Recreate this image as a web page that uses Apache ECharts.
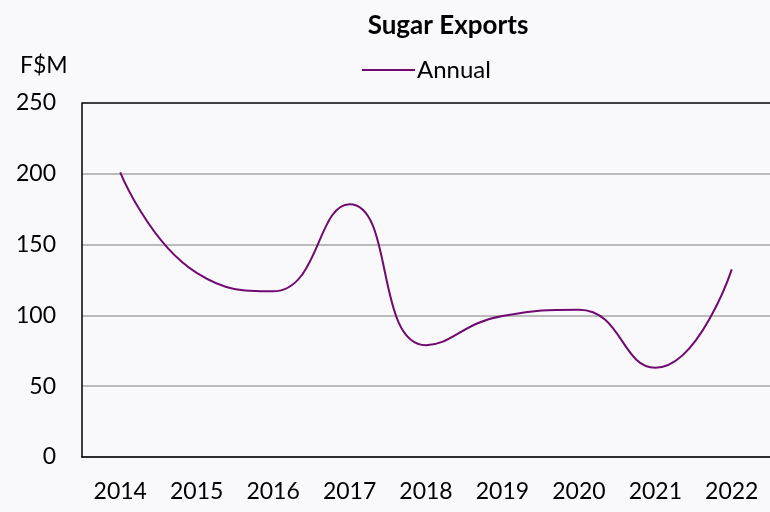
<!DOCTYPE html>
<html>
<head>
<meta charset="utf-8">
<script src="https://cdn.jsdelivr.net/npm/echarts@6/dist/echarts.min.js"></script>
<style>
  html, body { margin: 0; padding: 0; background: #f9f9fb; }
  #chart { width: 770px; height: 512px; }
</style>
</head>
<body>
<div id="chart"></div>
<script>
// data
const years = ['2014', '2015', '2016', '2017', '2018', '2019', '2020', '2021', '2022'];
const annual = [201, 130, 117, 178.5, 79, 99.6, 104, 63, 132.5];
const yTicks = [0, 50, 100, 150, 200, 250];

const chart = echarts.init(document.getElementById('chart'));
const font = 'Lato, "Open Sans", sans-serif';
const grey = '#a6a6a6';

chart.setOption({
  backgroundColor: '#f9f9fb',
  animation: false,
  title: {
    text: 'Sugar Exports',
    left: 443,
    textAlign: 'center',
    top: 8,
    textStyle: { fontFamily: font, fontSize: 26, fontWeight: 'bold', color: '#000' }
  },
  legend: {
    data: [{ name: 'Annual', icon: 'rect' }],
    left: 357,
    top: 53,
    itemWidth: 53,
    itemHeight: 2,
    itemGap: 5,
    textStyle: { fontFamily: font, fontSize: 24, color: '#000', padding: [0, 0, 0, -3] }
  },
  grid: { left: 82, right: -6, top: 103, bottom: 55, show: false },
  xAxis: {
    type: 'category',
    data: years,
    boundaryGap: true,
    axisLine: { lineStyle: { color: '#000', width: 1.5 } },
    axisTick: { inside: true, length: 8, lineStyle: { color: '#000' } },
    axisLabel: { fontFamily: font, fontSize: 23, color: '#000', margin: 23 }
  },
  yAxis: {
    type: 'value',
    min: yTicks[0],
    max: yTicks[yTicks.length - 1],
    interval: 50,
    name: 'F$M',
    nameLocation: 'end',
    nameGap: 26,
    nameTextStyle: { fontFamily: font, fontSize: 23, color: '#000', align: 'left', padding: [0, 0, 0, -62] },
    axisLine: { show: true, lineStyle: { color: '#000', width: 1.5 } },
    axisTick: { show: false },
    axisLabel: { fontFamily: font, fontSize: 23, color: '#000', margin: 26 },
    splitLine: {
      show: true,
      lineStyle: { color: yTicks.map((t, i) => i === yTicks.length - 1 ? '#000' : grey), width: 1.5 }
    }
  },
  series: [{
    name: 'Annual',
    type: 'line',
    data: annual,
    smooth: 0.5,
    symbol: 'none',
    lineStyle: { color: '#700a70', width: 2 },
    itemStyle: { color: '#700a70' }
  }]
});
</script>
</body>
</html>
